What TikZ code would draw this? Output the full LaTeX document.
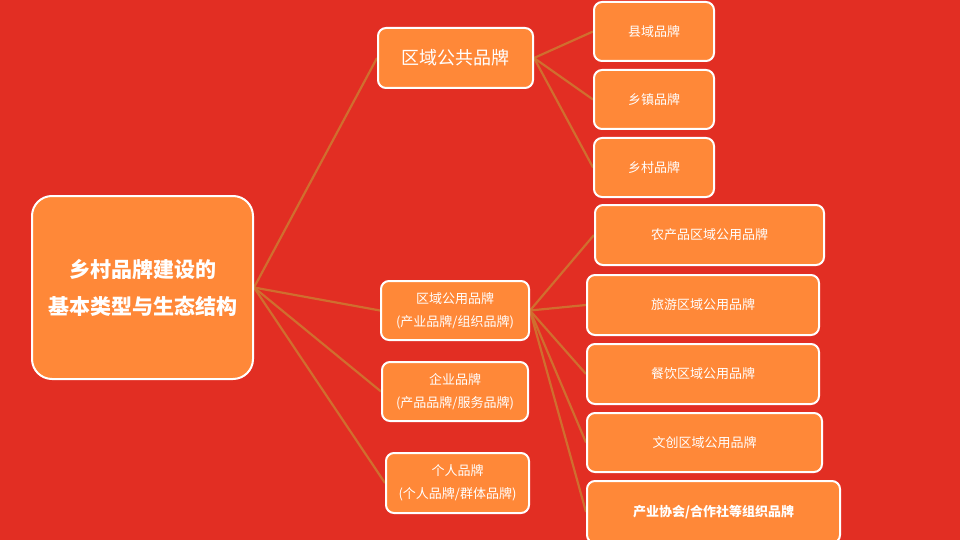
\documentclass[tikz,border=0pt]{standalone}
\usepackage{fontspec}
\setmainfont{Noto Sans CJK SC}
\usetikzlibrary{backgrounds}
\definecolor{bgc}{RGB}{226,46,35}
\definecolor{boxc}{RGB}{255,136,56}
\definecolor{linkc}{RGB}{208,110,46}
\tikzset{
  box/.style={draw=white, line width=2pt, fill=boxc, rounded corners=8pt, inner sep=0pt,
    text=white, align=center, anchor=north west},
  rootbox/.style={box, rounded corners=20pt},
  link/.style={draw=linkc, line width=2.2pt},
}
\newcommand\mybox[7]{\node[box, minimum width=#4pt, minimum height=#5pt, font=#6] (#1) at (#2pt,-#3pt) {#7};}
\begin{document}
\begin{tikzpicture}[x=1pt,y=1pt]
\useasboundingbox (0,0) rectangle (960,-540);
\node[rootbox, minimum width=221pt, minimum height=183pt, font=\fontsize{21}{37}\selectfont\bfseries] (root) at (31pt,-195pt) {乡村品牌建设的\\基本类型与生态结构};
\mybox{qg}{377}{27}{155}{60}{\fontsize{18}{22}\selectfont}{区域公共品牌}
\mybox{xy}{593}{1}{120}{59}{\fontsize{13}{16}\selectfont}{县域品牌}
\mybox{xz}{593}{69}{120}{59}{\fontsize{13}{16}\selectfont}{乡镇品牌}
\mybox{xc}{593}{137}{120}{59}{\fontsize{13}{16}\selectfont}{乡村品牌}
\mybox{qy}{380}{280}{148}{59}{\fontsize{13}{23}\selectfont}{区域公用品牌\\(产业品牌/组织品牌)}
\mybox{qi}{381}{361}{146}{59}{\fontsize{13}{23}\selectfont}{企业品牌\\(产品品牌/服务品牌)}
\mybox{gr}{385}{452}{143}{60}{\fontsize{13}{23}\selectfont}{个人品牌\\(个人品牌/群体品牌)}
\mybox{nc}{594}{204}{229}{60}{\fontsize{13}{16}\selectfont}{农产品区域公用品牌}
\mybox{ly}{586}{274}{232}{60}{\fontsize{13}{16}\selectfont}{旅游区域公用品牌}
\mybox{cy}{586}{343}{232}{60}{\fontsize{13}{16}\selectfont}{餐饮区域公用品牌}
\mybox{wc}{586}{412}{235}{59}{\fontsize{13}{16}\selectfont}{文创区域公用品牌}
\mybox{cx}{586}{480}{253}{62}{\fontsize{13}{16}\selectfont\bfseries}{产业协会/合作社等组织品牌}
\begin{scope}[on background layer]
\fill[bgc] (0,0) rectangle (960,-540);
\draw[link] (root.east) -- (qg.west);
\draw[link] (root.east) -- (qy.west);
\draw[link] (root.east) -- (qi.west);
\draw[link] (root.east) -- (gr.west);
\draw[link] (qg.east) -- (xy.west);
\draw[link] (qg.east) -- (xz.west);
\draw[link] (qg.east) -- (xc.west);
\draw[link] (qy.east) -- (nc.west);
\draw[link] (qy.east) -- (ly.west);
\draw[link] (qy.east) -- (cy.west);
\draw[link] (qy.east) -- (wc.west);
\draw[link] (qy.east) -- (cx.west);
\end{scope}
\end{tikzpicture}
\end{document}
